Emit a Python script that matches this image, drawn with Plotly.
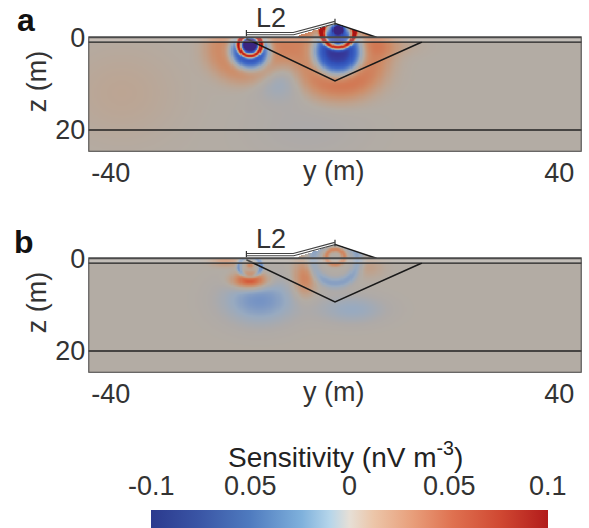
import numpy as np
import plotly.graph_objects as go

W, H = 589, 528
FONT = "Liberation Sans"
TXT = "#333333"
FS = 27

# ---------------- data ----------------
y_range = [-44, 44]          # horizontal extent (m)
z_bottom = 24.7              # bottom of section (m)
layer_z = [1.0, 20.0]        # horizontal interfaces (m)
x_ticks = [-40, 40]
z_ticks = [0, 20]
cb_range = [-0.1, 0.1]
cb_ticks = [-0.1, -0.05, 0, 0.05, 0.1]
cb_ticktext = ["-0.1", "0.05", "0", "0.05", "0.1"]

# buried wedge (triangle) outline
tri_y = [-15.8, 0.0, 15.5]
tri_z = [0.3, 9.4, 1.0]
# surface mound
mound_y = [-7.4, 0.0, 7.4]
mound_z = [0.0, -3.0, 0.0]
# L2 survey line
l2_y = [-15.8, -7.4, 0.0]
l2_z = [-0.8, -0.8, -3.2]
l2_label = "L2"
l2_label_pos = [-11.5, -4.2]

# sensitivity anomalies: centre y, centre z, scale y, scale z, ring radius, ring width, exponent, amplitude
a_cy  = [-15.5, -15.2, -15.2, -15.2, -10.0,  0.5,  1.5,  0.5,  0.5,  0.5, -38.0, -5.0,  9.0]
a_cz  = [  2.5,   3.0,   1.7,   1.4,   9.0,  3.0,  9.5,  3.0, -1.2, -1.8,  12.0, 20.0,  2.0]
a_sy  = [  1.0,   3.5,   1.0,   0.9,   4.5,  1.0,  6.0,  4.2,  1.0,  1.0,  10.0, 10.0,  5.0]
a_sz  = [  1.0,   4.0,   1.15,  0.9,   4.5,  1.1,  4.0,  5.2,  1.15, 1.0,  10.0,  6.0,  2.0]
a_r0  = [  5.2,   0.0,   2.0,   0.0,   0.0,  6.8,  0.0,  0.0,  2.9,  0.0,   0.0,  0.0,  0.0]
a_w   = [  2.8,   1.0,   0.45,  1.0,   1.0,  3.2,  1.0,  1.0,  0.5,  1.0,   1.0,  1.0,  1.0]
a_p   = [  2.0,   4.0,   2.0,   2.0,   2.0,  2.0,  2.0,  4.0,  2.0,  2.0,   2.0,  2.0,  2.0]
a_amp = [0.028, -0.09,  0.17, -0.14, -0.02, 0.03, 0.012, -0.095, 0.17, -0.14, 0.007, -0.007, 0.012]

b_cy  = [-13.5, -15.2, -15.2, -15.2, -19.5,  0.0,  0.0, -5.5,  3.0,  6.0]
b_cz  = [  9.0,   4.8,   1.8,   1.5,   0.5,  0.5, -0.3,  4.5, 11.0,  2.0]
b_sy  = [  6.5,   3.0,   1.0,   0.6,   2.5,  1.0,  1.0,  2.0,  6.0,  2.5]
b_sz  = [  5.0,   1.7,   1.1,   0.6,   1.2,  1.2,  1.0,  4.0,  3.0,  2.0]
b_r0  = [  0.0,   0.0,   2.0,   0.0,   0.0,  4.0,  1.6,  0.0,  0.0,  0.0]
b_w   = [  1.0,   1.0,   0.45,  1.0,   1.0,  1.1,  0.5,  1.0,  1.0,  1.0]
b_p   = [  2.0,   2.0,   2.0,   2.0,   2.0,  2.0,  2.0,  2.0,  2.0,  2.0]
b_amp = [-0.034, 0.075, -0.035, 0.03, 0.028, -0.026, 0.032, 0.035, -0.02, 0.012]

# ---------------- build the fields ----------------
gy = np.arange(y_range[0], y_range[1] + 0.001, 0.2)
gz = np.arange(-3.4, z_bottom + 0.001, 0.15)
YY, ZZ = np.meshgrid(gy, gz)
surface = np.interp(gy, mound_y, mound_z, left=0.0, right=0.0)
mask = ZZ < surface[None, :]


def field(cy, cz, sy, sz, r0, w, p, amp):
    f = np.zeros_like(YY)
    for i in range(len(cy)):
        r = np.sqrt(((YY - cy[i]) / sy[i]) ** 2 + ((ZZ - cz[i]) / sz[i]) ** 2)
        f += amp[i] * np.exp(-np.abs((r - r0[i]) / w[i]) ** p[i])
    f[mask] = np.nan
    return f


fa = field(a_cy, a_cz, a_sy, a_sz, a_r0, a_w, a_p, a_amp)
fb = field(b_cy, b_cz, b_sy, b_sz, b_r0, b_w, b_p, b_amp)

field_cs = [
    [0.00, "#3a2580"], [0.10, "#3150b8"], [0.20, "#3f68c6"], [0.30, "#6689c6"],
    [0.40, "#98aac0"], [0.47, "#aeaaa8"], [0.50, "#b3aca4"], [0.54, "#bda491"],
    [0.63, "#cd8e6a"], [0.75, "#d56a45"], [0.88, "#cc3020"], [1.00, "#a81414"],
]
bar_cs = [
    [0.00, "#2b3a8e"], [0.12, "#3a55a5"], [0.25, "#4f7bbf"], [0.38, "#7fb1dc"],
    [0.45, "#b5d5ea"], [0.50, "#e6dfd6"], [0.56, "#ecc6a9"], [0.66, "#e89e7a"],
    [0.76, "#df7150"], [0.88, "#d04832"], [1.00, "#b21b1b"],
]

# ---------------- layout geometry (pixels) ----------------
px_left, px_right = 88.3, 581.7
pz_per_m = 4.635
z_top_view = -5.6
panels = [
    dict(top0=37.3, f=fa, label="a", label_xy=(26, 20)),
    dict(top0=258.3, f=fb, label="b", label_xy=(24, 242)),
]

fig = go.Figure()
layout = dict(
    width=W, height=H, margin=dict(l=0, r=0, t=0, b=0),
    paper_bgcolor="white", plot_bgcolor="white", showlegend=False,
    font=dict(family=FONT, color=TXT, size=FS),
)
shapes, annotations = [], []


def paper_text(x_px, y_px, text, size=FS, angle=0, color=TXT):
    annotations.append(dict(x=x_px / W, y=1 - y_px / H, xref="paper", yref="paper",
                            xanchor="center", yanchor="middle", text=text,
                            textangle=angle, showarrow=False,
                            font=dict(size=size, family=FONT, color=color)))


for i, P in enumerate(panels):
    n = "" if i == 0 else str(i + 1)
    xa, ya = "x" + n, "y" + n
    top_px = P["top0"] + z_top_view * pz_per_m
    bot_px = P["top0"] + z_bottom * pz_per_m
    layout["xaxis" + n] = dict(
        domain=[px_left / W, px_right / W], range=y_range, anchor=ya,
        showgrid=False, zeroline=False, showline=False, ticks="",
        tickvals=x_ticks, ticktext=[str(v) for v in x_ticks],
        tickfont=dict(size=FS, family=FONT, color=TXT), ticklabelstandoff=2,
    )
    layout["yaxis" + n] = dict(
        domain=[1 - bot_px / H, 1 - top_px / H], range=[z_bottom, z_top_view],
        anchor=xa, showgrid=False, zeroline=False, showline=False, ticks="",
        tickvals=z_ticks, ticktext=[str(v) for v in z_ticks],
        tickfont=dict(size=FS, family=FONT, color=TXT), ticklabelstandoff=2,
    )
    fig.add_trace(go.Heatmap(
        x=gy, y=gz, z=P["f"], xaxis=xa, yaxis=ya, colorscale=field_cs,
        zmin=cb_range[0], zmax=cb_range[1], showscale=False, hoverinfo="skip",
    ))
    # lighter top strip
    shapes.append(dict(type="rect", xref=xa, yref=ya, x0=y_range[0], x1=y_range[1],
                       y0=0, y1=layer_z[0], fillcolor="rgba(255,255,255,0.22)",
                       line=dict(width=0), layer="above"))
    for lz in layer_z:
        fig.add_trace(go.Scatter(x=y_range, y=[lz, lz], xaxis=xa, yaxis=ya, mode="lines",
                                 line=dict(color="#222222", width=1.5), hoverinfo="skip"))
    fig.add_trace(go.Scatter(x=tri_y, y=tri_z, xaxis=xa, yaxis=ya, mode="lines",
                             line=dict(color="#1a1a1a", width=1.6), hoverinfo="skip"))
    fig.add_trace(go.Scatter(x=mound_y[1:], y=mound_z[1:], xaxis=xa, yaxis=ya, mode="lines",
                             line=dict(color="#1a1a1a", width=1.5), hoverinfo="skip"))
    fig.add_trace(go.Scatter(x=l2_y, y=l2_z, xaxis=xa, yaxis=ya, mode="lines",
                             line=dict(color="#444444", width=3.4), hoverinfo="skip"))
    fig.add_trace(go.Scatter(x=l2_y, y=l2_z, xaxis=xa, yaxis=ya, mode="lines",
                             line=dict(color="white", width=1.2), hoverinfo="skip"))
    for ty, tz in [(l2_y[0], l2_z[0]), (l2_y[-1], l2_z[-1])]:
        fig.add_trace(go.Scatter(x=[ty, ty], y=[tz - 0.8, tz + 0.6], xaxis=xa, yaxis=ya,
                                 mode="lines", line=dict(color="#333333", width=1.2),
                                 hoverinfo="skip"))
    # frame
    shapes.append(dict(type="rect", xref=xa, yref=ya, x0=y_range[0], x1=y_range[1],
                       y0=0, y1=z_bottom, line=dict(color="#4a4a4a", width=2),
                       layer="above"))
    annotations.append(dict(x=l2_label_pos[0], y=l2_label_pos[1], xref=xa, yref=ya,
                            xanchor="center", yanchor="middle",
                            text=l2_label, showarrow=False,
                            font=dict(size=FS, family=FONT, color=TXT)))
    paper_text(333.5, P["top0"] + 134, "y (m)")
    paper_text(37, P["top0"] + 45, "z (m)", angle=-90)
    paper_text(P["label_xy"][0], P["label_xy"][1], "<b>%s</b>" % P["label"], size=32,
               color="#111111")

# colorbar (bar drawn by plotly, labels placed above it)
cb_left, cb_right = 151.7, 548.3
fig.add_trace(go.Scatter(
    x=[None], y=[None], mode="markers", hoverinfo="skip",
    marker=dict(color=[0], cmin=cb_range[0], cmax=cb_range[1], colorscale=bar_cs,
                showscale=True,
                colorbar=dict(
                    orientation="h", x=(cb_left + cb_right) / 2 / W, xanchor="center",
                    y=0, yanchor="bottom", len=(cb_right - cb_left) / W,
                    lenmode="fraction", thickness=18, xpad=0, ypad=0,
                    outlinewidth=0, ticks="", showticklabels=False,
                )),
))
for v, t in zip(cb_ticks, cb_ticktext):
    xp = cb_left + (v - cb_range[0]) / (cb_range[1] - cb_range[0]) * (cb_right - cb_left)
    paper_text(xp, 486, t)
paper_text(345.5, 455, "Sensitivity (nV m<sup>-3</sup>)", size=28, color="#222222")

layout["shapes"] = shapes
layout["annotations"] = annotations
fig.update_layout(**layout)
fig.write_html("out.html")
